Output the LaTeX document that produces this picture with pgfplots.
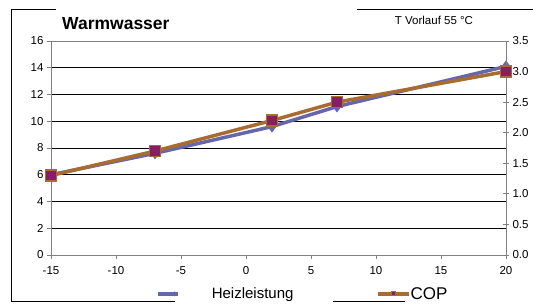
\documentclass[border=0pt]{standalone}
\usepackage{fontspec}
\setmainfont{Liberation Sans}
\usepackage{pgfplots}
\pgfplotsset{compat=1.18}
\definecolor{hz}{RGB}{102,102,170}
\definecolor{copc}{RGB}{168,108,48}
\definecolor{copf}{RGB}{135,30,100}
\definecolor{axgray}{RGB}{128,128,128}
\begin{document}
\begin{tikzpicture}[x=1pt,y=1pt]
\useasboundingbox (0,0) rectangle (533,307);
\draw[black, line width=0.9pt] (11,298)--(56,298);
\draw[black, line width=0.9pt] (357,298)--(533,298);
\draw[black, line width=0.9pt] (11,298)--(11,5.5)--(175,5.5);
\draw[black, line width=0.9pt] (333,5.5)--(405,5.5);
\node[anchor=west, font=\bfseries\fontsize{17.5}{19}\selectfont, inner sep=0pt] at (62,283) {Warmwasser};
\node[anchor=center, font=\fontsize{11.5}{13}\selectfont, inner sep=0pt] at (434,287) {T Vorlauf 55 °C};
\begin{axis}[
  at={(51pt,52pt)}, anchor=south west,
  scale only axis, width=455pt, height=214pt,
  xmin=-15, xmax=20, ymin=0, ymax=16,
  xtick={-15,-10,...,20}, ytick={0,2,...,16},
  xtick pos=bottom, ytick pos=left,
  tick align=outside, major tick length=4pt,
  tick style={axgray, line width=0.8pt},
  axis line style={axgray, line width=0.8pt},
  ymajorgrids, grid style={black, line width=0.6pt},
  tick label style={font=\fontsize{11.5}{13}\selectfont},
  xticklabel style={yshift=-4pt},
  /pgf/number format/assume math mode=true,
  legend style={at={(axis description cs:0.2308,-0.182)}, anchor=west, draw=none, fill=none, inner sep=0pt, outer sep=0pt, nodes={inner sep=0pt}, column sep=0pt, font=\fontsize{15}{17}\selectfont},
  legend image code/.code={\draw[hz, line width=3.5pt] (0pt,0pt) -- (20pt,0pt); \fill[hz, draw=none] (17pt,2.5pt) -- (19.5pt,0pt) -- (17pt,-2.5pt) -- (14.5pt,0pt) -- cycle; \path[draw=none] (0pt,0pt) -- (54pt,0pt);},
]
\addplot[hz, line width=3.5pt, mark=diamond*, mark size=5.5pt, mark options={fill=hz, draw=hz, line width=0.5pt}]
  coordinates {(-15,6.0) (-7,7.6) (2,9.6) (7,11.1) (20,14.1)};
\addlegendentry{Heizleistung}
\end{axis}
\begin{axis}[
  at={(51pt,52pt)}, anchor=south west,
  scale only axis, width=455pt, height=214pt,
  xmin=-15, xmax=20, ymin=0, ymax=3.5,
  axis x line=none, axis y line*=right,
  ytick={0,0.5,...,3.5},
  tick align=center, major tick length=6pt,
  tick style={axgray, line width=0.8pt},
  axis line style={axgray, line width=0.8pt},
  tick label style={font=\fontsize{11.5}{13}\selectfont},
  yticklabel style={/pgf/number format/.cd, fixed, fixed zerofill, precision=1, assume math mode=true},
  legend style={at={(axis description cs:0.7143,-0.182)}, anchor=west, draw=none, fill=none, inner sep=0pt, outer sep=0pt, nodes={inner sep=0pt}, column sep=0pt, font=\fontsize{17}{19}\selectfont},
  legend image code/.code={\draw[copc, line width=3.5pt] (0pt,0pt) -- (31pt,0pt); \filldraw[fill=copf, draw=copc, line width=1pt] (14pt,-2pt) rectangle (18pt,2pt);},
]
\addplot[copc, line width=3.5pt, mark=square*, mark size=5.5pt, mark options={fill=copf, draw=copc, line width=1.5pt}]
  coordinates {(-15,1.3) (-7,1.7) (2,2.2) (7,2.5) (20,3.0)};
\addlegendentry{COP}
\end{axis}
\end{tikzpicture}
\end{document}
